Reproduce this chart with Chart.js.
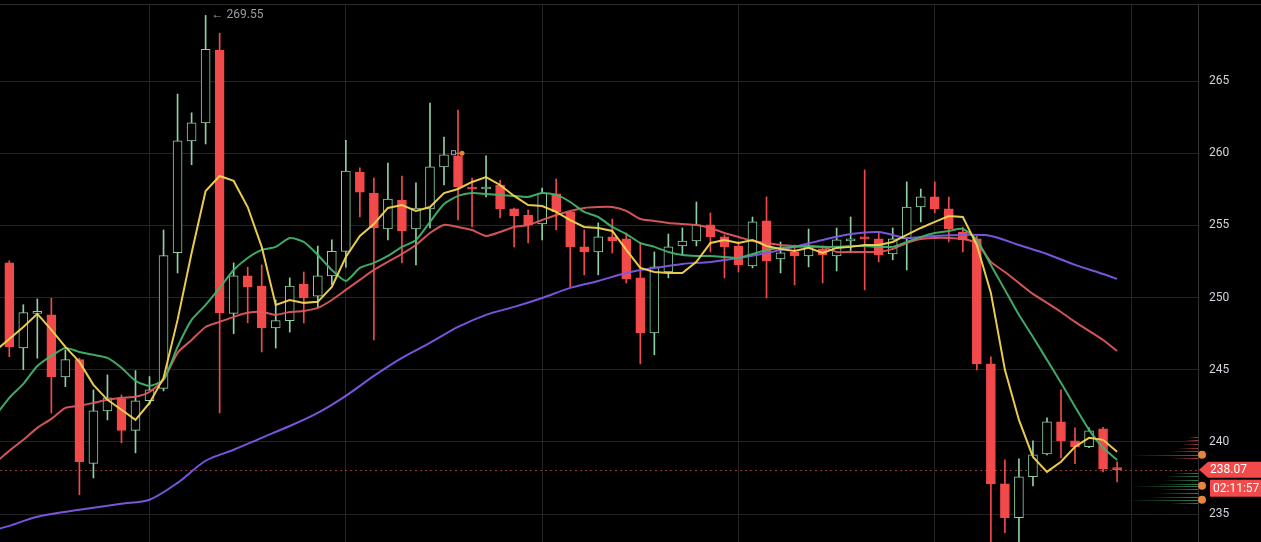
<!DOCTYPE html>
<html>
<head>
<meta charset="utf-8">
<title>Price chart</title>
<script src="https://cdn.jsdelivr.net/npm/chart.js@4.4.0/dist/chart.umd.min.js"></script>
<style>
  html, body { margin: 0; padding: 0; background: #000; overflow: hidden; }
  #wrap { width: 1261px; height: 542px; }
</style>
</head>
<body>
<div id="wrap"><canvas id="price-chart" width="1261" height="542"></canvas></div>
<script>
// Candles, the first one is cut by the left edge (index -1)
var firstIndex = -1;
var opens = [247.0, 252.4, 246.5, 248.9, 248.8, 244.5, 245.7, 238.5, 242.15, 243.0, 240.8,
  242.85, 243.7, 253.1, 260.85, 262.1, 267.15, 248.9, 251.5, 250.8, 247.9,
  248.4, 250.94, 250.1, 251.5, 253.2, 258.7, 257.24, 254.75, 256.76, 254.75,
  256.14, 259.05, 259.81, 257.66, 257.52, 257.8, 256.14, 255.72, 255.1, 257.18,
  255.93, 253.51, 253.16, 254.2, 254.06, 251.36, 247.55, 251.77, 253.57, 253.92,
  255.03, 254.2, 253.57, 252.19, 255.31, 252.67, 253.16, 252.88, 253.37, 252.88,
  253.92, 254.13, 254.06, 253.02, 254.06, 256.27, 256.97, 256.14, 254.54, 254.06,
  245.4, 237.09, 234.74, 237.58, 239.17, 241.39, 240.07, 239.66, 240.9, 238.2];
var highs = [252.6, 252.55, 249.5, 249.9, 249.95, 246.37, 245.8, 243.6, 244.64, 243.25, 244.94,
  244.52, 254.68, 264.1, 262.8, 269.55, 268.3, 252.4, 252.1, 252.26, 249.83,
  251.36, 251.77, 253.57, 254.0, 260.9, 258.98, 258.28, 259.32, 258.42, 257.94,
  263.48, 261.12, 262.99, 258.28, 259.81, 258.14, 256.2, 256.07, 257.59, 258.21,
  255.95, 254.68, 255.17, 255.44, 254.47, 253.78, 253.16, 254.4, 254.82, 256.62,
  255.86, 254.34, 253.85, 255.58, 256.97, 253.85, 253.64, 254.75, 253.57, 254.82,
  255.58, 258.84, 254.54, 254.82, 258.01, 257.52, 258.01, 256.97, 254.89, 254.27,
  245.89, 238.75, 238.82, 240.07, 241.66, 243.6, 240.97, 240.97, 241.0, 238.62];
var lows = [246.2, 245.9, 245.0, 245.8, 241.99, 243.83, 236.33, 237.5, 241.52, 239.93, 239.24,
  242.6, 243.53, 251.7, 259.2, 260.64, 242.0, 247.5, 248.25, 246.23, 246.5,
  247.6, 248.24, 249.28, 250.9, 252.1, 255.58, 247.06, 254.0, 252.4, 252.26,
  254.82, 257.8, 255.37, 254.89, 256.97, 255.51, 253.51, 253.78, 253.99, 254.68,
  250.74, 251.57, 251.57, 253.09, 251.01, 245.4, 246.03, 251.36, 252.95, 253.57,
  253.16, 251.36, 251.77, 252.05, 249.97, 251.7, 250.87, 252.12, 251.01, 251.84,
  253.16, 250.53, 252.47, 252.61, 251.91, 255.24, 255.86, 253.85, 253.16, 244.99,
  233.0, 233.7, 233.0, 236.95, 239.1, 238.89, 238.48, 239.59, 237.92, 237.23];
var closes = [252.4, 246.6, 248.95, 249.0, 244.5, 245.7, 238.63, 242.15, 243.05, 240.8, 242.85,
  243.6, 252.9, 260.85, 262.1, 267.2, 248.93, 251.5, 250.75, 247.9, 248.4,
  250.8, 249.97, 251.5, 253.2, 258.77, 257.3, 254.82, 256.83, 254.61, 256.2,
  259.05, 259.88, 257.66, 257.52, 257.66, 256.14, 255.65, 255.03, 257.24, 255.93,
  253.51, 253.16, 254.2, 253.92, 251.29, 247.55, 252.12, 253.51, 253.92, 255.03,
  254.2, 253.51, 252.26, 255.24, 252.54, 253.09, 252.88, 253.57, 252.95, 253.99,
  254.06, 254.06, 252.95, 254.06, 256.27, 256.97, 256.14, 254.75, 253.99, 245.4,
  237.09, 234.74, 237.58, 239.1, 241.39, 240.07, 239.66, 240.76, 238.13, 238.07];

// Moving averages (same indexing as the candles)
var maYellow = [246.3, 247.13, 247.96, 248.87, 247.76, 246.58, 245.54, 243.95, 242.91, 242.22, 241.52,
  242.70, 244.43, 248.45, 253.09, 257.38, 258.42, 258.08, 256.27, 253.51, 249.49,
  249.83, 249.63, 249.70, 250.74, 252.81, 254.27, 255.10, 256.21, 256.41, 256.00,
  256.27, 257.24, 257.52, 258.01, 258.35, 257.80, 257.04, 256.41, 256.34, 255.93,
  255.37, 254.89, 254.82, 254.61, 253.30, 252.05, 251.77, 251.70, 251.70, 252.47,
  253.78, 253.99, 253.78, 253.99, 253.57, 253.37, 253.23, 253.44, 253.09, 253.44,
  253.51, 253.64, 253.64, 253.85, 254.34, 254.82, 255.24, 255.65, 255.58, 253.64,
  250.32, 244.99, 241.52, 238.96, 237.92, 238.62, 239.66, 240.28, 240.14, 239.31];
var maGreen = [241.8, 243.05, 244.02, 245.26, 245.96, 246.51, 246.23, 246.03, 245.82, 245.13, 244.23,
  243.88, 244.30, 246.58, 248.45, 249.49, 250.67, 251.91, 252.74, 253.30, 253.51,
  254.13, 253.85, 252.95, 251.91, 251.15, 252.05, 252.40, 252.88, 253.51, 253.99,
  255.24, 256.48, 257.04, 257.24, 257.18, 257.11, 257.04, 256.97, 257.24, 257.11,
  256.62, 255.93, 255.58, 254.89, 254.40, 253.78, 253.51, 253.16, 252.95, 252.88,
  252.88, 252.81, 252.74, 253.02, 253.30, 253.44, 253.51, 253.57, 253.51, 253.51,
  253.57, 253.57, 253.51, 253.51, 253.85, 254.20, 254.47, 254.61, 254.75, 253.99,
  252.26, 250.53, 248.80, 247.27, 245.68, 244.09, 242.43, 240.83, 239.59, 238.75];
var maRed = [238.55, 239.38, 240.14, 240.97, 241.59, 242.35, 242.50, 242.70, 242.91, 243.05, 243.12,
  243.46, 244.30, 246.17, 247.06, 247.96, 248.31, 248.66, 248.94, 249.00, 248.80,
  249.00, 249.07, 249.28, 249.83, 250.53, 251.22, 251.91, 252.47, 253.02, 253.64,
  254.47, 255.03, 254.89, 254.68, 254.27, 254.54, 254.89, 255.03, 255.37, 255.72,
  256.00, 256.21, 256.27, 256.27, 256.00, 255.44, 255.31, 255.17, 255.10, 255.03,
  254.82, 254.47, 254.20, 253.92, 253.78, 253.64, 253.57, 253.51, 253.51, 253.16,
  253.16, 253.16, 253.16, 253.37, 253.78, 254.06, 254.13, 254.13, 254.06, 253.78,
  252.47, 251.77, 251.01, 250.25, 249.63, 249.00, 248.31, 247.69, 247.06, 246.30];
// the slow line is read at every second candle (candle numbers)
var maPurpleIdx = [-1, 0, 2, 5, 8, 10, 12, 14, 16, 18, 20, 22, 24, 26, 28, 30, 32, 34, 36, 38, 40,
  42, 44, 46, 48, 50, 52, 54, 56, 58, 60, 62, 64, 66, 68, 70, 72, 74, 76, 78, 79];
var maPurple = [233.91, 234.18, 234.81, 235.29, 235.71, 235.99, 237.16, 238.69, 239.45, 240.28, 241.1,
  242.01, 243.19, 244.57, 245.82, 246.86, 247.96, 248.80, 249.35, 249.97, 250.67,
  251.15, 251.70, 252.05, 252.33, 252.47, 252.74, 253.09, 253.51, 253.99, 254.40,
  254.54, 254.13, 254.27, 254.34, 254.27, 253.64, 253.02, 252.26, 251.63, 251.29];

// Axis ticks
var yTicks = [235, 240, 245, 250, 255, 260, 265];
var xGrid = [10, 24, 38, 52, 66, 80];

// Labels on the right
var lastPrice = 238.07;
var countdown = '02:11:57';
var highIndex = 14;
var highMark = 269.55;
var alertIndex = 32;
var alertPrice = 260.0;

// Volume profile at the right edge
var profilePrice = [240.35, 240.1, 239.85, 239.6, 239.35, 239.1, 238.85,
  237.85, 237.6, 237.35, 237.1, 236.95, 236.7, 236.45, 236.2, 235.99, 235.75];
var profileVol = [14, 20, 24, 30, 42, 100, 40, 38, 48, 52, 62, 100, 58, 62, 72, 110, 42];
var profileDots = [239.1, 236.95, 235.99];

var upColor = '#8fcfa4';
var downColor = '#f24a4a';

function isUp(i) {
  return closes[i] >= opens[i];
}

var bodies = opens.map(function (o, i) { return { x: i + firstIndex, y: [o, closes[i]] }; });
var wicks = highs.map(function (h, i) { return { x: i + firstIndex, y: [lows[i], h] }; });
function toPoints(values) {
  return values.map(function (v, i) { return { x: i + firstIndex, y: v }; });
}
var purplePoints = maPurpleIdx.map(function (ix, k) { return { x: ix, y: maPurple[k] }; });

// Extra drawing: price line, price tag, countdown, profile, marks
var decor = {
  id: 'decor',
  beforeDatasetsDraw: function (chart) {
    var ctx = chart.ctx, area = chart.chartArea;
    var py = Math.round(chart.scales.y.getPixelForValue(lastPrice)) + 0.5;
    ctx.save();
    ctx.strokeStyle = 'rgba(230, 95, 95, 0.6)';
    ctx.lineWidth = 1;
    ctx.setLineDash([2, 3]);
    ctx.beginPath();
    ctx.moveTo(area.left, py);
    ctx.lineTo(area.right, py);
    ctx.stroke();
    ctx.restore();
  },
  afterDraw: function (chart) {
    var ctx = chart.ctx, area = chart.chartArea;
    var xs = chart.scales.x, ys = chart.scales.y;
    ctx.save();

    // top pane border
    ctx.strokeStyle = '#2b2b2b';
    ctx.lineWidth = 1;
    ctx.beginPath();
    ctx.moveTo(0, 4.5);
    ctx.lineTo(chart.width, 4.5);
    ctx.stroke();

    // volume profile
    for (var i = 0; i < profilePrice.length; i++) {
      var y = Math.round(ys.getPixelForValue(profilePrice[i])) + 0.5;
      var len = profileVol[i] * 0.68;
      var up = profilePrice[i] > lastPrice;
      var g = ctx.createLinearGradient(area.right - len, 0, area.right, 0);
      g.addColorStop(0, up ? 'rgba(230,80,80,0)' : 'rgba(70,170,110,0)');
      g.addColorStop(1, up ? 'rgba(230,80,80,0.75)' : 'rgba(70,170,110,0.75)');
      ctx.strokeStyle = g;
      ctx.beginPath();
      ctx.moveTo(area.right - len, y);
      ctx.lineTo(area.right, y);
      ctx.stroke();
    }

    // orange dots on the scale edge
    ctx.fillStyle = '#e8853d';
    profileDots.forEach(function (p) {
      ctx.beginPath();
      ctx.arc(area.right + 4, ys.getPixelForValue(p), 4, 0, Math.PI * 2);
      ctx.fill();
    });

    // last price tag
    var py = ys.getPixelForValue(lastPrice);
    ctx.fillStyle = downColor;
    ctx.beginPath();
    ctx.moveTo(area.right + 1, py);
    ctx.lineTo(area.right + 10, py - 8);
    ctx.lineTo(chart.width, py - 8);
    ctx.lineTo(chart.width, py + 8);
    ctx.lineTo(area.right + 10, py + 8);
    ctx.closePath();
    ctx.fill();
    ctx.fillRect(area.right + 12, py + 10, chart.width - area.right - 12, 17);
    ctx.fillStyle = '#ffffff';
    ctx.font = '12px Roboto';
    ctx.textBaseline = 'middle';
    ctx.textAlign = 'left';
    ctx.fillText(lastPrice.toFixed(2), area.right + 12, py + 0.5);
    ctx.fillText(countdown, area.right + 15, py + 19);

    // highest price mark
    var hx = xs.getPixelForValue(highIndex) + 6;
    var hy = ys.getPixelForValue(highMark);
    ctx.fillStyle = '#9a9da6';
    ctx.font = '12px Roboto';
    ctx.fillText('\u2190 ' + highMark.toFixed(2), hx, hy);

    // small alert mark
    var ax = xs.getPixelForValue(alertIndex);
    var ay = ys.getPixelForValue(alertPrice);
    ctx.strokeStyle = '#9a9da6';
    ctx.strokeRect(ax - 6.5, ay - 2.5, 4, 4);
    ctx.beginPath();
    ctx.moveTo(ax - 2.5, ay);
    ctx.lineTo(ax + 2, ay);
    ctx.stroke();
    ctx.fillStyle = '#e8853d';
    ctx.beginPath();
    ctx.arc(ax + 4, ay, 2.5, 0, Math.PI * 2);
    ctx.fill();

    ctx.restore();
  }
};

Chart.defaults.font.family = 'Roboto, "DejaVu Sans", sans-serif';

new Chart(document.getElementById('price-chart'), {
  type: 'bar',
  data: {
    datasets: [
      {
        type: 'line',
        label: 'MA yellow',
        data: toPoints(maYellow),
        borderColor: 'rgba(246, 214, 80, 0.95)',
        borderWidth: 2,
        pointRadius: 0,
        tension: 0,
        order: 0
      },
      {
        type: 'line',
        label: 'MA green',
        data: toPoints(maGreen),
        borderColor: 'rgba(66, 178, 108, 0.95)',
        borderWidth: 2,
        pointRadius: 0,
        tension: 0.2,
        order: 1
      },
      {
        type: 'line',
        label: 'MA red',
        data: toPoints(maRed),
        borderColor: 'rgba(222, 88, 92, 0.95)',
        borderWidth: 2,
        pointRadius: 0,
        tension: 0.2,
        order: 2
      },
      {
        type: 'line',
        label: 'MA purple',
        data: purplePoints,
        borderColor: 'rgba(128, 88, 232, 0.95)',
        borderWidth: 2,
        pointRadius: 0,
        tension: 0.3,
        order: 3
      },
      {
        label: 'Bodies',
        data: bodies,
        grouped: false,
        barThickness: 9,
        minBarLength: 2,
        borderWidth: 1,
        borderSkipped: false,
        backgroundColor: function (c) { return isUp(c.dataIndex) ? '#000000' : downColor; },
        borderColor: function (c) { return isUp(c.dataIndex) ? upColor : downColor; },
        order: 10
      },
      {
        label: 'Wicks',
        data: wicks,
        grouped: false,
        barThickness: 1,
        borderWidth: 0,
        backgroundColor: function (c) { return isUp(c.dataIndex) ? upColor : downColor; },
        order: 11
      }
    ]
  },
  options: {
    responsive: false,
    animation: false,
    events: [],
    layout: { padding: { top: 5, left: 0, right: 0, bottom: 0 } },
    plugins: {
      legend: { display: false },
      tooltip: { enabled: false }
    },
    scales: {
      x: {
        type: 'linear',
        min: -0.663,
        max: 84.77,
        offset: false,
        grid: { color: '#242424', drawTicks: false, offset: false },
        border: { display: false },
        ticks: { display: false },
        afterBuildTicks: function (scale) {
          scale.ticks = xGrid.map(function (v) { return { value: v }; });
        },
        afterFit: function (scale) {
          scale.height = 0;
          scale.paddingLeft = 0;
          scale.paddingRight = 0;
        }
      },
      y: {
        position: 'right',
        min: 233.06,
        max: 270.27,
        beginAtZero: false,
        grid: { color: '#242424', drawTicks: false },
        border: { display: true, color: '#333333' },
        ticks: {
          color: '#d1d4dc',
          padding: 11,
          font: { size: 12 }
        },
        afterBuildTicks: function (scale) {
          scale.ticks = yTicks.map(function (v) { return { value: v }; });
        },
        afterFit: function (scale) {
          scale.width = 63;
          scale.paddingTop = 0;
          scale.paddingBottom = 0;
        }
      }
    }
  },
  plugins: [decor]
});
</script>
</body>
</html>
